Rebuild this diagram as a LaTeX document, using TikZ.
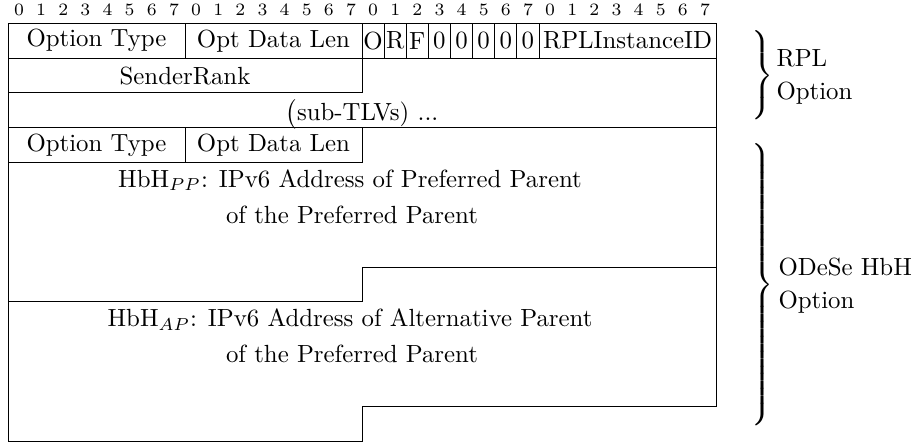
\documentclass[tikz,border=0pt]{standalone}
\usepackage{tikz}

\begin{document}
\begin{tikzpicture}[x=0.403pt,y=0.403pt,yscale=-1,xscale=1]
%set diagram left start at 0, and has height of 444
\useasboundingbox (0,0) rectangle (918,444);

%Shape: Polygon (outline of both options)
\draw   (8,23.3) -- (716,23.3) -- (716,406.49) -- (362,406.49) -- (362,441.32) -- (8,441.32) -- cycle ;
%Straight Lines (row 1)
\draw    (8,58.14) -- (716,58.14) ;
\draw    (185,23.3) -- (185,58.14) ;
\draw    (362,23.3) -- (362,58.14) ;
\draw    (384.13,23.3) -- (384.13,58.14) ;
\draw    (406.25,23.3) -- (406.25,58.14) ;
\draw    (428.38,23.3) -- (428.38,58.14) ;
\draw    (450.5,23.3) -- (450.5,58.14) ;
\draw    (472.63,23.3) -- (472.63,58.14) ;
\draw    (494.75,23.3) -- (494.75,58.14) ;
\draw    (516.88,23.3) -- (516.88,58.14) ;
\draw    (539,23.3) -- (539,58.14) ;
%Straight Lines (SenderRank)
\draw    (8,92.97) -- (362,92.97) -- (362,58.14) ;
%Straight Lines (sub-TLVs)
\draw    (8,127.81) -- (716,127.81) ;
%Straight Lines (row 4)
\draw    (185,127.81) -- (185,162.64) ;
\draw    (8,162.64) -- (362,162.64) -- (362,127.81) ;
%Straight Lines (end of HbH PP)
\draw    (716,267.15) -- (362,267.15) -- (362,301.98) -- (8,301.98) ;

% Text Node
\draw (19.06,10) node [font=\scriptsize] (b0) {0};
% Text Node
\draw (41.19,10) node [font=\scriptsize] (b1) {1};
% Text Node
\draw (63.31,10) node [font=\scriptsize] (b2) {2};
% Text Node
\draw (85.44,10) node [font=\scriptsize] (b3) {3};
% Text Node
\draw (107.56,10) node [font=\scriptsize] (b4) {4};
% Text Node
\draw (129.69,10) node [font=\scriptsize] (b5) {5};
% Text Node
\draw (151.81,10) node [font=\scriptsize] (b6) {6};
% Text Node
\draw (173.94,10) node [font=\scriptsize] (b7) {7};
% Text Node
\draw (196.06,10) node [font=\scriptsize] (b8) {0};
% Text Node
\draw (218.19,10) node [font=\scriptsize] (b9) {1};
% Text Node
\draw (240.31,10) node [font=\scriptsize] (b10) {2};
% Text Node
\draw (262.44,10) node [font=\scriptsize] (b11) {3};
% Text Node
\draw (284.56,10) node [font=\scriptsize] (b12) {4};
% Text Node
\draw (306.69,10) node [font=\scriptsize] (b13) {5};
% Text Node
\draw (328.81,10) node [font=\scriptsize] (b14) {6};
% Text Node
\draw (350.94,10) node [font=\scriptsize] (b15) {7};
% Text Node
\draw (373.06,10) node [font=\scriptsize] (b16) {0};
% Text Node
\draw (395.19,10) node [font=\scriptsize] (b17) {1};
% Text Node
\draw (417.31,10) node [font=\scriptsize] (b18) {2};
% Text Node
\draw (439.44,10) node [font=\scriptsize] (b19) {3};
% Text Node
\draw (461.56,10) node [font=\scriptsize] (b20) {4};
% Text Node
\draw (483.69,10) node [font=\scriptsize] (b21) {5};
% Text Node
\draw (505.81,10) node [font=\scriptsize] (b22) {6};
% Text Node
\draw (527.94,10) node [font=\scriptsize] (b23) {7};
% Text Node
\draw (550.06,10) node [font=\scriptsize] (b24) {0};
% Text Node
\draw (572.19,10) node [font=\scriptsize] (b25) {1};
% Text Node
\draw (594.31,10) node [font=\scriptsize] (b26) {2};
% Text Node
\draw (616.44,10) node [font=\scriptsize] (b27) {3};
% Text Node
\draw (638.56,10) node [font=\scriptsize] (b28) {4};
% Text Node
\draw (660.69,10) node [font=\scriptsize] (b29) {5};
% Text Node
\draw (682.81,10) node [font=\scriptsize] (b30) {6};
% Text Node
\draw (704.94,10) node [font=\scriptsize] (b31) {7};

% Text Node
\draw (96.5,40.72) node (optype1) {Option Type};
% Text Node
\draw (273.5,40.72) node (optlen1) {Opt Data Len};
% Text Node
\draw (373.06,40.72) node [inner sep=0pt] (flago) {O};
% Text Node
\draw (395.19,40.72) node [inner sep=0pt] (flagr) {R};
% Text Node
\draw (417.31,40.72) node [inner sep=0pt] (flagf) {F};
% Text Node
\draw (439.44,40.72) node [inner sep=0pt] (flag3) {0};
% Text Node
\draw (461.56,40.72) node [inner sep=0pt] (flag4) {0};
% Text Node
\draw (483.69,40.72) node [inner sep=0pt] (flag5) {0};
% Text Node
\draw (505.81,40.72) node [inner sep=0pt] (flag6) {0};
% Text Node
\draw (527.94,40.72) node [inner sep=0pt] (flag7) {0};
% Text Node
\draw (627.5,40.72) node (instid) {RPLInstanceID};
% Text Node
\draw (185,75.56) node (rank) {SenderRank};
% Text Node
\draw (362,114.5) node (subtlv) {$\big($sub-TLVs) ...};
% Text Node
\draw (96.5,145.23) node (optype2) {Option Type};
% Text Node
\draw (273.5,145.23) node (optlen2) {Opt Data Len};
% Text Node
\draw (350,180.06) node (pp1) {HbH$_{PP}$: IPv6 Address of Preferred Parent};
% Text Node
\draw (352,214.9) node (pp2) {of the Preferred Parent};
% Text Node
\draw (350,319.4) node (ap1) {HbH$_{AP}$: IPv6 Address of Alternative Parent};
% Text Node
\draw (352,354.24) node (ap2) {of the Preferred Parent};

% Text Node
\draw (748,75.56) node [anchor=west,inner sep=0pt] (rplbrace) {$\left.\vcenter{\hrule height 39.5pt width 0pt}\right\}$};
% Text Node
\draw (776,58.14) node [anchor=west,inner sep=0pt] (rpl1) {RPL};
% Text Node
\draw (776,92.97) node [anchor=west,inner sep=0pt] (rpl2) {Option};
% Text Node
\draw (748,284.57) node [anchor=west,inner sep=0pt] (hbhbrace) {$\left.\vcenter{\hrule height 113.5pt width 0pt}\right\}$};
% Text Node
\draw (778,267.15) node [anchor=west,inner sep=0pt] (hbh1) {ODeSe HbH};
% Text Node
\draw (778,301.98) node [anchor=west,inner sep=0pt] (hbh2) {Option};

\end{tikzpicture}
\end{document}
